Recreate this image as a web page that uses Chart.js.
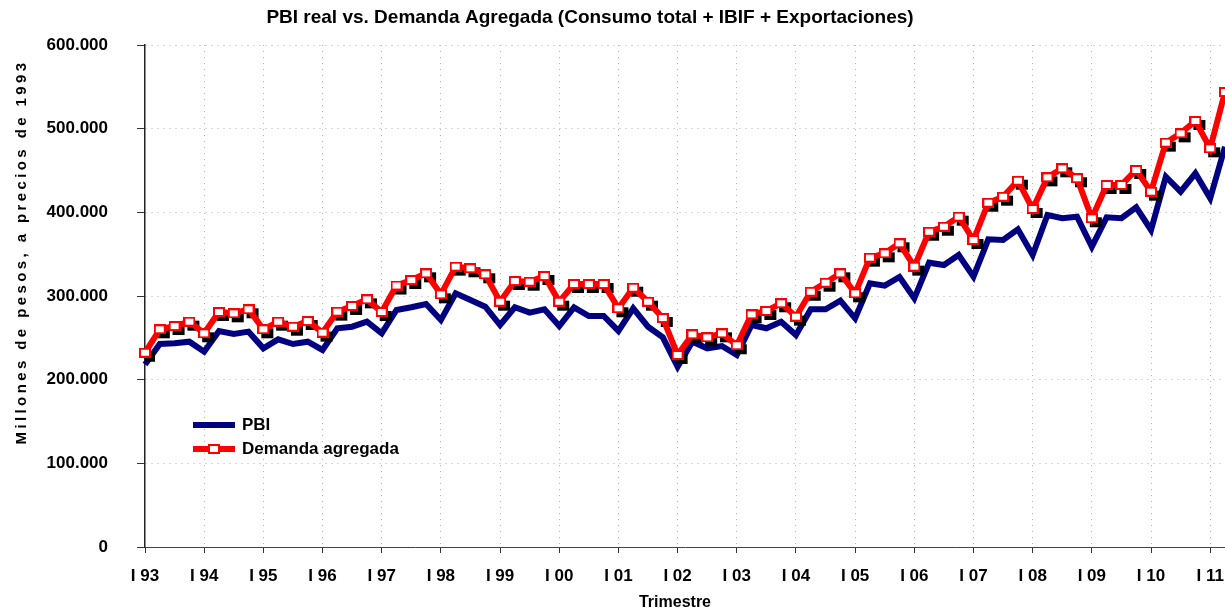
<!DOCTYPE html>
<html>
<head>
    <title>PBI real vs. Demanda Agregada</title>
    <script src="https://cdn.jsdelivr.net/npm/chart.js"></script>
    <style>
        body { margin: 0; background: #fff; }
    </style>
</head>
<body>
    <canvas id="pbi-chart" width="1225" height="614"></canvas>

    <script>
        // Quarters from I 93 to II 11
        const years = ['93', '94', '95', '96', '97', '98', '99', '00', '01', '02',
                       '03', '04', '05', '06', '07', '08', '09', '10', '11'];
        const quarterNames = ['I', 'II', 'III', 'IV'];
        const labels = years.flatMap(y => quarterNames.map(q => q + ' ' + y)).slice(0, 74);

        // Millones de pesos, a precios de 1993
        const pbi = [
            218000, 242600, 243400, 245400, 233400, 258200, 254600, 257400,
            237500, 248200, 242600, 245400, 235500, 261400, 263300, 269300,
            255400, 283300, 286500, 290400, 271300, 303200, 295200, 287200,
            265300, 286500, 280100, 284100, 264100, 286500, 276100, 276100,
            258200, 285300, 263300, 250600, 215500, 245400, 237500, 240200,
            229500, 265300, 261400, 269300, 253400, 284100, 284100, 294400,
            273300, 315200, 312300, 322700, 297200, 339800, 337000, 349000,
            323100, 367800, 366900, 379700, 349000, 396800, 392900, 394800,
            358900, 394000, 392900, 406000, 378900, 442600, 424700, 446600,
            416800, 478400
        ];
        const demanda = [
            232200, 260200, 264100, 269300, 255400, 280900, 279300, 284100,
            260200, 269300, 263300, 270100, 256200, 281300, 288100, 296000,
            280900, 312500, 319100, 327100, 302000, 335100, 333100, 325900,
            293200, 317900, 317100, 323900, 293200, 314300, 314300, 314300,
            285300, 309900, 293200, 273700, 229500, 254200, 250600, 255400,
            241100, 278100, 282100, 291300, 275300, 305100, 315900, 327100,
            303200, 345800, 351000, 363000, 335100, 376800, 382800, 394800,
            366900, 411500, 418700, 437800, 404000, 441800, 452600, 440700,
            392900, 432700, 432700, 450600, 424700, 483300, 494400, 509200,
            476500, 543800
        ];

        const chartTitle = 'PBI real vs. Demanda Agregada (Consumo total + IBIF + Exportaciones)';
        const yTitle = 'Millones de pesos, a precios de 1993';
        const xTitle = 'Trimestre';
        const FONT = '"Liberation Sans", Arial, sans-serif';
        const MW = 12, MH = 10;   // marker size
        const SHADOW = 4;         // shadow offset

        // white square with red border, used as point style
        function makeMarker() {
            const c = document.createElement('canvas');
            c.width = MW;
            c.height = MH;
            const m = c.getContext('2d');
            m.fillStyle = '#ff0000';
            m.fillRect(0, 0, MW, MH);
            m.fillStyle = '#fff';
            m.fillRect(2, 2, MW - 4, MH - 4);
            return c;
        }
        const marker = makeMarker();

        // black shadow squares behind the red series, at the points' own positions
        const shadowPlugin = {
            id: 'shadow',
            beforeDatasetDraw(chart, args) {
                if (args.index !== 1) return;
                const ctx = chart.ctx;
                const area = chart.chartArea;
                ctx.save();
                ctx.beginPath();
                ctx.rect(area.left, area.top, area.right - area.left, area.bottom - area.top);
                ctx.clip();
                ctx.fillStyle = '#000';
                args.meta.data.forEach(pt => {
                    ctx.fillRect(pt.x - MW / 2 + SHADOW, pt.y - MH / 2 + SHADOW, MW, MH);
                });
                ctx.restore();
            }
        };

        // titles and the legend inside the plot
        const textPlugin = {
            id: 'texts',
            afterDraw(chart) {
                const ctx = chart.ctx;
                const area = chart.chartArea;
                ctx.save();
                ctx.fillStyle = '#000';
                ctx.textBaseline = 'middle';
                ctx.textAlign = 'center';
                ctx.font = 'bold 19px ' + FONT;
                ctx.fillText(chartTitle, 590, 18);
                ctx.font = 'bold 16px ' + FONT;
                ctx.fillText(xTitle, 675, 603);

                ctx.save();
                ctx.translate(22, 252);
                ctx.rotate(-Math.PI / 2);
                ctx.font = 'bold 15px ' + FONT;
                ctx.letterSpacing = '3.4px';
                ctx.fillText(yTitle, 0, 0);
                ctx.restore();

                // legend
                const lx = area.left + 48, ly = 425;
                ctx.lineCap = 'butt';
                ctx.lineWidth = 6;
                ctx.strokeStyle = '#000080';
                ctx.beginPath();
                ctx.moveTo(lx, ly);
                ctx.lineTo(lx + 42, ly);
                ctx.stroke();
                ctx.strokeStyle = '#ff0000';
                ctx.beginPath();
                ctx.moveTo(lx, ly + 24);
                ctx.lineTo(lx + 42, ly + 24);
                ctx.stroke();
                ctx.drawImage(marker, lx + 21 - MW / 2, ly + 24 - MH / 2);

                ctx.fillStyle = '#000';
                ctx.textAlign = 'left';
                ctx.font = 'bold 17px ' + FONT;
                ctx.fillText('PBI', lx + 49, ly);
                ctx.fillText('Demanda agregada', lx + 49, ly + 24);
                ctx.restore();
            }
        };

        const ctx = document.getElementById('pbi-chart').getContext('2d');
        new Chart(ctx, {
            type: 'line',
            data: {
                labels: labels,
                datasets: [
                    {
                        label: 'PBI',
                        data: pbi,
                        borderColor: '#000080',
                        borderWidth: 6,
                        pointRadius: 0,
                        tension: 0,
                        order: 1
                    },
                    {
                        label: 'Demanda agregada',
                        data: demanda,
                        borderColor: '#ff0000',
                        borderWidth: 6,
                        pointStyle: marker,
                        pointRadius: 6,
                        tension: 0,
                        order: 0
                    }
                ]
            },
            options: {
                responsive: false,
                animation: false,
                devicePixelRatio: 1,
                layout: {
                    autoPadding: false,
                    padding: { top: 45, left: 0, right: 0, bottom: 0 }
                },
                plugins: {
                    legend: { display: false },
                    title: { display: false },
                    tooltip: { enabled: false }
                },
                scales: {
                    x: {
                        offset: false,
                        afterFit(scale) {
                            scale.height = 67;
                            scale.paddingLeft = 0;
                            scale.paddingRight = 0;
                        },
                        grid: {
                            color: c => (c.index === 0 ? 'rgba(0,0,0,0)' : '#b0b0b0'),
                            tickColor: '#333',
                            tickLength: 6,
                            tickBorderDash: []
                        },
                        border: { color: '#444', width: 1, dash: [1, 5] },
                        ticks: {
                            autoSkip: false,
                            maxRotation: 0,
                            padding: 13,
                            color: '#000',
                            font: { family: FONT, size: 17, weight: 'bold' },
                            callback: (value, index) => (index % 4 === 0 ? labels[index] : null)
                        }
                    },
                    y: {
                        min: 0,
                        max: 600000,
                        afterFit(scale) { scale.width = 145; },
                        grid: {
                            color: c => (c.tick && c.tick.value === 0 ? 'rgba(0,0,0,0)' : '#b0b0b0'),
                            tickColor: '#333',
                            tickLength: 8,
                            tickBorderDash: []
                        },
                        border: { color: '#222', width: 1.5, dash: [1, 5] },
                        ticks: {
                            stepSize: 100000,
                            padding: 29,
                            color: '#000',
                            font: { family: FONT, size: 17, weight: 'bold' },
                            callback: value => value.toLocaleString('de-DE')
                        }
                    }
                }
            },
            plugins: [shadowPlugin, textPlugin]
        });
    </script>
</body>
</html>
